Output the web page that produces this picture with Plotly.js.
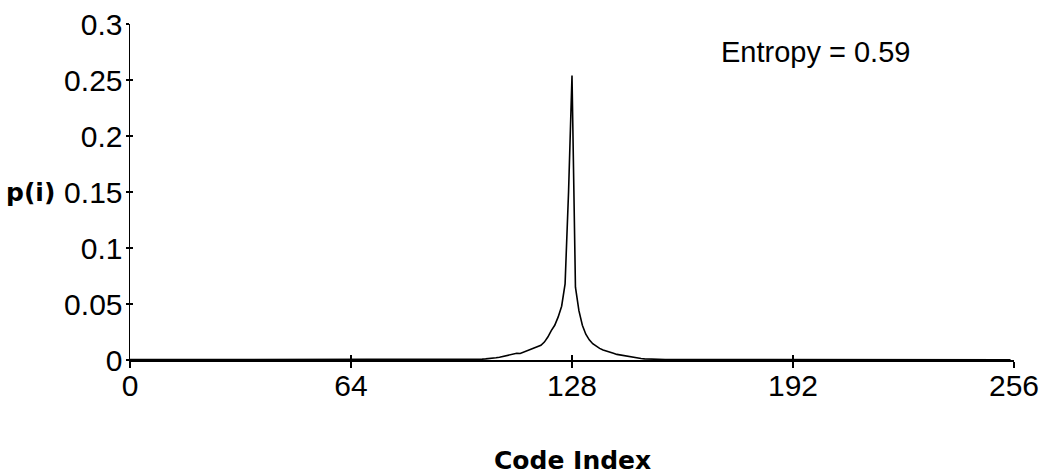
<!DOCTYPE html>
<html>
<head>
<meta charset="utf-8">
<script src="https://cdn.plot.ly/plotly-3.0.1.min.js"></script>
<style>html,body{margin:0;padding:0;background:#fff;}#chart{width:1048px;height:476px;}</style>
</head>
<body>
<div id="chart"></div>
<script>
// Probability p(i) for each code index 0..255
const probabilities = [
  0.0003,0.0003,0.0002,0.0003,0.0002,0.0002,0.0003,0.0002,0.0002,0.0002,
  0.0002,0.0002,0.0003,0.0002,0.0002,0.0002,0.0002,0.0002,0.0002,0.0002,
  0.0002,0.0002,0.0002,0.0002,0.0002,0.0002,0.0002,0.0002,0.0002,0.0002,
  0.0002,0.0002,0.0002,0.0002,0.0002,0.0002,0.0002,0.0002,0.0002,0.0002,
  0.0002,0.0002,0.0002,0.0002,0.0002,0.0002,0.0002,0.0002,0.0002,0.0002,
  0.0002,0.0002,0.0002,0.0002,0.0002,0.0002,0.0002,0.0002,0.0002,0.0002,
  0.0002,0.0002,0.0002,0.0002,0.0002,0.0002,0.0002,0.0002,0.0002,0.0002,
  0.0002,0.0002,0.0002,0.0002,0.0002,0.0002,0.0002,0.0002,0.0002,0.0003,
  0.0002,0.0003,0.0002,0.0003,0.0003,0.0003,0.0003,0.0003,0.0003,0.0003,
  0.0003,0.0003,0.0004,0.0004,0.0004,0.0005,0.0004,0.0005,0.0005,0.0006,
  0.0006,0.0007,0.0008,0.0010,0.0012,0.0016,0.0020,0.0025,0.0031,0.0038,
  0.0045,0.0051,0.0060,0.0058,0.0071,0.0082,0.0096,0.0104,0.0116,0.0132,
  0.0160,0.0205,0.0262,0.0310,0.0385,0.0480,0.0680,0.1500,0.2540,0.0650,
  0.0440,0.0310,0.0230,0.0180,0.0145,0.0122,0.0104,0.0089,0.0077,0.0068,
  0.0060,0.0050,0.0044,0.0037,0.0031,0.0026,0.0021,0.0017,0.0013,0.0010,
  0.0008,0.0007,0.0006,0.0005,0.0005,0.0004,0.0004,0.0004,0.0003,0.0003,
  0.0003,0.0003,0.0003,0.0003,0.0003,0.0003,0.0003,0.0003,0.0003,0.0003,
  0.0002,0.0002,0.0002,0.0002,0.0002,0.0002,0.0002,0.0002,0.0002,0.0002,
  0.0002,0.0002,0.0002,0.0002,0.0002,0.0002,0.0002,0.0002,0.0002,0.0002,
  0.0002,0.0002,0.0002,0.0002,0.0002,0.0002,0.0002,0.0002,0.0002,0.0002,
  0.0002,0.0002,0.0002,0.0002,0.0002,0.0002,0.0002,0.0002,0.0002,0.0002,
  0.0002,0.0002,0.0002,0.0002,0.0002,0.0002,0.0002,0.0002,0.0002,0.0002,
  0.0002,0.0002,0.0002,0.0002,0.0002,0.0002,0.0002,0.0002,0.0002,0.0002,
  0.0002,0.0002,0.0002,0.0002,0.0002,0.0002,0.0002,0.0002,0.0002,0.0002,
  0.0002,0.0002,0.0002,0.0002,0.0002,0.0002,0.0002,0.0002,0.0002,0.0002,
  0.0002,0.0002,0.0002,0.0002,0.0002,0.0002
];
const codeIndex = probabilities.map((_, i) => i);

const xTickVals = [0, 64, 128, 192, 256];
const xTickText = ["0", "64", "128", "192", "256"];
const yTickVals = [0, 0.05, 0.1, 0.15, 0.2, 0.25, 0.3];
const yTickText = ["0", "0.05", "0.1", "0.15", "0.2", "0.25", "0.3"];

const xTitle = "Code Index";
const yTitle = "p(i)";
const entropyLabel = "Entropy = 0.59";

const traces = [
  {
    x: codeIndex, y: probabilities, type: "scatter", mode: "lines",
    line: {color: "#000", width: 1.6, shape: "linear"},
    hoverinfo: "skip", showlegend: false, xaxis: "x", yaxis: "y"
  },
  {
    x: [], y: [], type: "scatter", mode: "lines",
    showlegend: false, hoverinfo: "skip", xaxis: "x2", yaxis: "y2"
  }
];

const layout = {
  width: 1048, height: 476,
  margin: {l: 130, r: 34, t: 24, b: 116},
  paper_bgcolor: "#fff", plot_bgcolor: "#fff",
  showlegend: false,
  xaxis: {
    range: [0, 256], tickvals: xTickVals, ticktext: xTickText,
    ticks: "outside", ticklen: 6, tickwidth: 1.5, tickcolor: "#000",
    showline: true, linewidth: 1.5, linecolor: "#000",
    showgrid: false, zeroline: false, fixedrange: true,
    tickfont: {family: "Liberation Sans, Arial, sans-serif", size: 30, color: "#000"},
    ticklabelstandoff: -8
  },
  yaxis: {
    range: [0, 0.3], tickvals: yTickVals, ticktext: yTickText,
    ticks: "outside", ticklen: 3, tickwidth: 1.5, tickcolor: "#000",
    showline: true, linewidth: 1.5, linecolor: "#000",
    showgrid: false, zeroline: false, fixedrange: true,
    tickfont: {family: "Liberation Sans, Arial, sans-serif", size: 30, color: "#000"},
    ticklabelstandoff: -3
  },
  xaxis2: {
    overlaying: "x", anchor: "y", side: "bottom",
    range: [0, 256], tickvals: xTickVals,
    ticks: "inside", ticklen: 5, tickwidth: 1.5, tickcolor: "#000",
    showticklabels: false, showline: false, showgrid: false, zeroline: false
  },
  yaxis2: {
    overlaying: "y", anchor: "x", side: "left",
    range: [0, 0.3], tickvals: yTickVals,
    ticks: "inside", ticklen: 3, tickwidth: 1.5, tickcolor: "#000",
    showticklabels: false, showline: false, showgrid: false, zeroline: false
  },
  annotations: [
    {
      text: yTitle, xref: "paper", yref: "y", x: -0.083, y: 0.15,
      xanchor: "right", yanchor: "middle", showarrow: false,
      font: {family: "DejaVu Sans, sans-serif", size: 25, color: "#000", weight: "bold"}
    },
    {
      text: xTitle, xref: "x", yref: "paper", x: 128, y: -0.298,
      xanchor: "center", yanchor: "middle", showarrow: false,
      font: {family: "DejaVu Sans, sans-serif", size: 25, color: "#000", weight: "bold"}
    },
    {
      text: entropyLabel, xref: "paper", yref: "paper", x: 0.776, y: 0.918,
      xanchor: "center", yanchor: "middle", showarrow: false,
      font: {family: "Liberation Sans, Arial, sans-serif", size: 29, color: "#000"}
    }
  ]
};

Plotly.newPlot("chart", traces, layout, {displayModeBar: false, staticPlot: true});
</script>
</body>
</html>
